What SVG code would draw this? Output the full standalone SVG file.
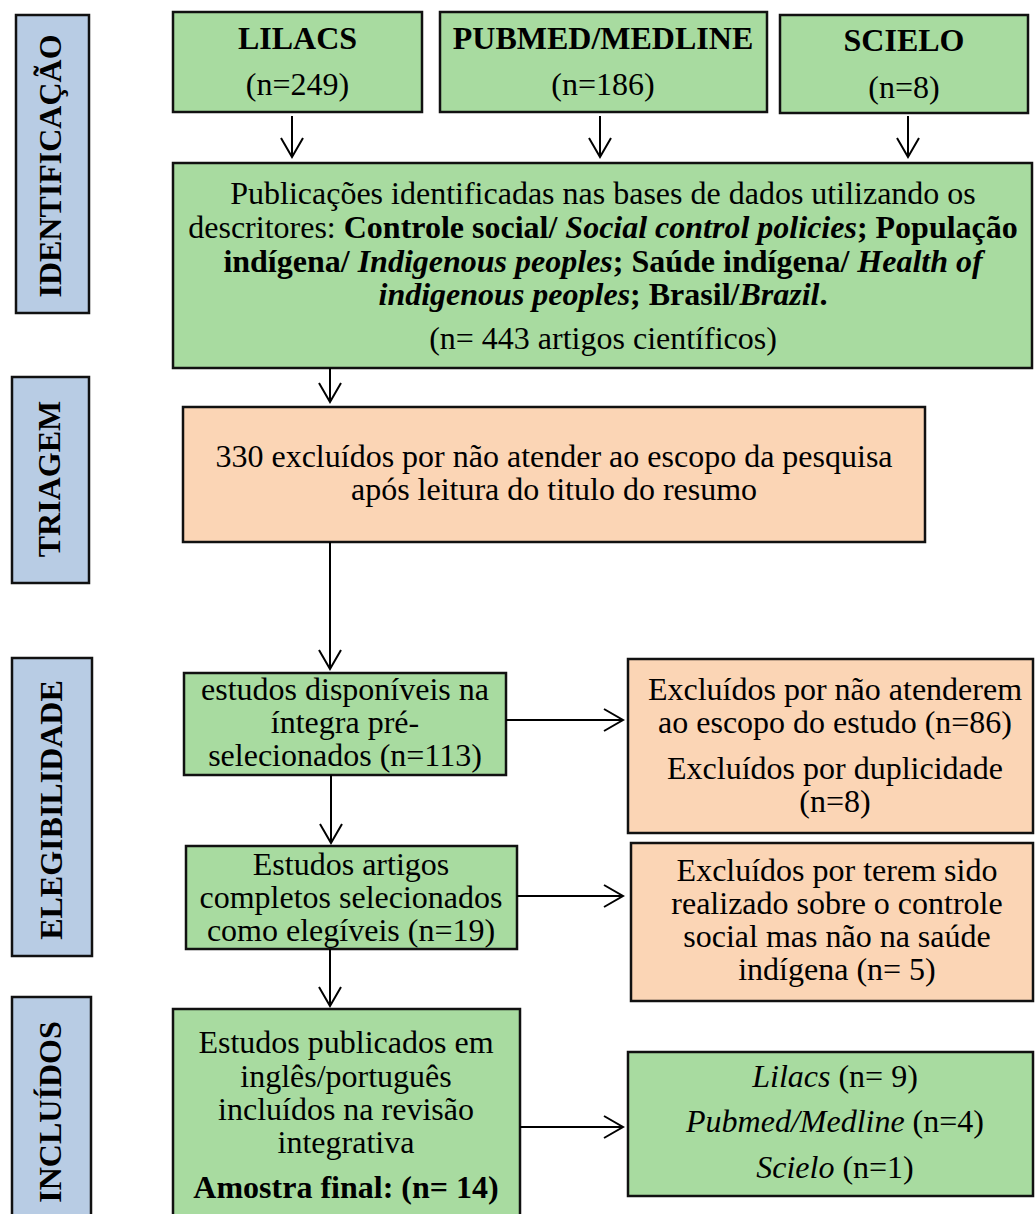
<svg xmlns="http://www.w3.org/2000/svg" width="1035" height="1214" viewBox="0 0 1035 1214">
<style>
text{font-family:"Liberation Serif","Times New Roman",serif;font-size:32px;fill:#000;text-anchor:middle}
.b{font-weight:bold}
.i{font-style:italic}
.bi{font-weight:bold;font-style:italic}
.g{fill:#A8DBA0;stroke:#111;stroke-width:2.5}
.p{fill:#FBD5B5;stroke:#111;stroke-width:2.5}
.s{fill:#B8CCE4;stroke:#111;stroke-width:2.5}
.c{stroke:#000;stroke-width:2;fill:none}
</style>
<defs>
<marker id="ah" markerUnits="userSpaceOnUse" markerWidth="24" markerHeight="26" refX="21" refY="12" orient="auto">
<path d="M2,1 L21,12 L2,23" fill="none" stroke="#000" stroke-width="2"/>
</marker>
</defs>
<g id="stage-identificacao">
<rect class="s" x="16" y="15" width="73" height="298"/>
<text class="b" transform="translate(61,166) rotate(-90)">IDENTIFICAÇÃO</text>
</g>
<g id="stage-triagem">
<rect class="s" x="12" y="377" width="77" height="206"/>
<text class="b" transform="translate(60,479) rotate(-90)">TRIAGEM</text>
</g>
<g id="stage-elegibilidade">
<rect class="s" x="12" y="658" width="80" height="298"/>
<text class="b" transform="translate(62,810) rotate(-90)">ELEGIBILIDADE</text>
</g>
<g id="stage-incluidos">
<rect class="s" x="12" y="997" width="79" height="230"/>
<text class="b" transform="translate(61,1112) rotate(-90)">INCLUÍDOS</text>
</g>
<g id="lilacs">
<rect class="g" x="173" y="12" width="249" height="100"/>
<text class="b" x="297.5" y="49">LILACS</text>
<text x="297.5" y="95">(n=249)</text>
</g>
<g id="pubmed">
<rect class="g" x="440" y="12" width="327" height="100"/>
<text class="b" x="603" y="49">PUBMED/MEDLINE</text>
<text x="603" y="95">(n=186)</text>
</g>
<g id="scielo">
<rect class="g" x="780" y="15" width="248" height="98"/>
<text class="b" x="904" y="51">SCIELO</text>
<text x="904" y="98">(n=8)</text>
</g>
<g id="identified">
<rect class="g" x="173" y="163" width="859" height="205"/>
<text x="603" y="204">Publicações identificadas nas bases de dados utilizando os</text>
<text x="603" y="238">descritores: <tspan class="b">Controle social/ </tspan><tspan class="bi">Social control policies</tspan><tspan class="b">; População</tspan></text>
<text x="603" y="272"><tspan class="b">indígena/ </tspan><tspan class="bi">Indigenous peoples</tspan><tspan class="b">; Saúde indígena/ </tspan><tspan class="bi">Health of</tspan></text>
<text x="603" y="305"><tspan class="bi">indigenous peoples</tspan><tspan class="b">; Brasil/</tspan><tspan class="bi">Brazil</tspan><tspan class="b">.</tspan></text>
<text x="603" y="349">(n= 443 artigos científicos)</text>
</g>
<g id="screening">
<rect class="p" x="183" y="407" width="742" height="135"/>
<text x="554" y="467">330 excluídos por não atender ao escopo da pesquisa</text>
<text x="554" y="500">após leitura do titulo do resumo</text>
</g>
<g id="available">
<rect class="g" x="184" y="673" width="322" height="102"/>
<text x="345" y="700">estudos disponíveis na</text>
<text x="345" y="733">íntegra pré-</text>
<text x="345" y="766">selecionados (n=113)</text>
</g>
<g id="excluded-1">
<rect class="p" x="628" y="659" width="405" height="174"/>
<text x="835" y="700">Excluídos por não atenderem</text>
<text x="835" y="733">ao escopo do estudo (n=86)</text>
<text x="835" y="779">Excluídos por duplicidade</text>
<text x="835" y="812">(n=8)</text>
</g>
<g id="eligible">
<rect class="g" x="186" y="846" width="331" height="103"/>
<text x="351" y="875">Estudos artigos</text>
<text x="351" y="908">completos selecionados</text>
<text x="351" y="941">como elegíveis (n=19)</text>
</g>
<g id="excluded-2">
<rect class="p" x="631" y="843" width="402" height="158"/>
<text x="837" y="881">Excluídos por terem sido</text>
<text x="837" y="914">realizado sobre o controle</text>
<text x="837" y="947">social mas não na saúde</text>
<text x="837" y="980">indígena (n= 5)</text>
</g>
<g id="included">
<rect class="g" x="173" y="1009" width="347" height="210"/>
<text x="346" y="1053">Estudos publicados em</text>
<text x="346" y="1087">inglês/português</text>
<text x="346" y="1120">incluídos na revisão</text>
<text x="346" y="1153">integrativa</text>
<text class="b" x="346" y="1198">Amostra final: (n= 14)</text>
</g>
<g id="by-source">
<rect class="g" x="628" y="1052" width="405" height="144"/>
<text x="835" y="1087"><tspan class="i">Lilacs</tspan> (n= 9)</text>
<text x="835" y="1132"><tspan class="i">Pubmed/Medline</tspan> (n=4)</text>
<text x="835" y="1178"><tspan class="i">Scielo</tspan> (n=1)</text>
</g>
<g id="connectors">
<line class="c" x1="292" y1="116" x2="292" y2="157" marker-end="url(#ah)"/>
<line class="c" x1="600" y1="116" x2="600" y2="157" marker-end="url(#ah)"/>
<line class="c" x1="908" y1="116" x2="908" y2="157" marker-end="url(#ah)"/>
<line class="c" x1="330" y1="368" x2="330" y2="402" marker-end="url(#ah)"/>
<line class="c" x1="330" y1="542" x2="330" y2="669" marker-end="url(#ah)"/>
<line class="c" x1="506" y1="720" x2="623" y2="720" marker-end="url(#ah)"/>
<line class="c" x1="331" y1="775" x2="331" y2="843" marker-end="url(#ah)"/>
<line class="c" x1="517" y1="896" x2="623" y2="896" marker-end="url(#ah)"/>
<line class="c" x1="330" y1="949" x2="330" y2="1006" marker-end="url(#ah)"/>
<line class="c" x1="520" y1="1127" x2="623" y2="1127" marker-end="url(#ah)"/>
</g>
</svg>
